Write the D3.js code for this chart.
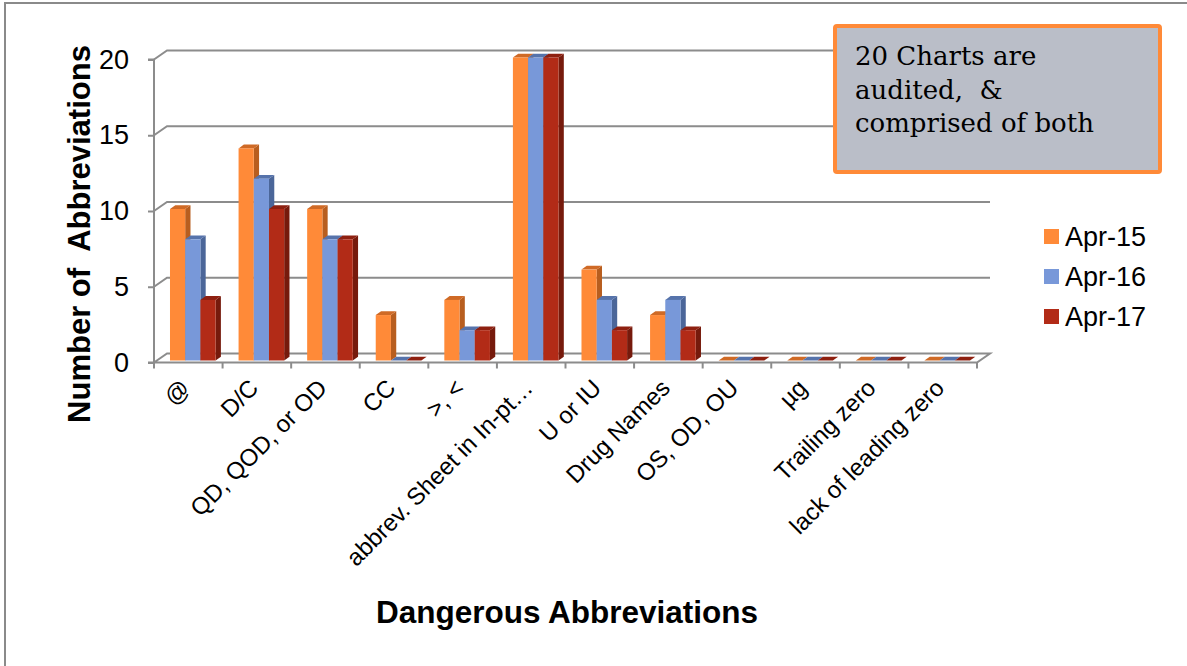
<!DOCTYPE html>
<html>
<head>
<meta charset="utf-8">
<script src="https://cdn.jsdelivr.net/npm/d3@7"></script>
<style>
  html, body { margin: 0; padding: 0; background: #fff; }
  svg { display: block; }
  text { font-family: "Liberation Sans", Arial, sans-serif; fill: #000; }
</style>
</head>
<body>
<svg id="chart" width="1187" height="666"></svg>
<script>
// Dangerous abbreviations counted in audited charts, by audit month
const categories = ["@", "D/C", "QD, QOD, or OD", "CC", ">, <", "abbrev. Sheet in In-pt…",
                    "U or IU", "Drug Names", "OS, OD, OU", "µg", "Trailing zero", "lack of leading zero"];
const seriesNames = ["Apr-15", "Apr-16", "Apr-17"];
const apr15 = [10, 14, 10, 3, 4, 20, 6, 3, 0, 0, 0, 0];
const apr16 = [8, 12, 8, 0, 2, 20, 4, 4, 0, 0, 0, 0];
const apr17 = [4, 10, 8, 0, 2, 20, 2, 2, 0, 0, 0, 0];
const yTicks = [0, 5, 10, 15, 20];
const noteLines = ["20 Charts are", "audited,  &", "comprised of both"];

const seriesValues = [apr15, apr16, apr17];
const faceColors = ["#ff8a38", "#7898d9", "#b22b17"];
const sideColors = ["#b85e1f", "#4b6699", "#761a0c"];
const topColors  = ["#cf6a26", "#5673ab", "#8e2010"];

const svg = d3.select("#chart");

// outer frame of the chart area
svg.append("path")
  .attr("d", "M5,700 L5,3 L1200,3")
  .attr("fill", "none").attr("stroke", "#8a8a8a").attr("stroke-width", 2);

// plot geometry: front plane plus a receding depth offset for the 3-D walls
const left = 154, right = 977;
const depthX = 13, depthY = -9;
const x = d3.scaleBand().domain(categories).range([left, right]).paddingInner(0.335).paddingOuter(0.1675);
const xs = d3.scaleBand().domain(seriesNames).range([0, x.bandwidth()]);
const y = d3.scaleLinear().domain([0, 20]).range([362.5, 59.5]);

const gridColor = "#8c8c8c";
const grid = svg.append("g").attr("fill", "none").attr("stroke", gridColor).attr("stroke-width", 2);

// back-wall gridlines with their diagonal connectors to the front axis
yTicks.filter(t => t > 0).forEach(t => {
  grid.append("path")
    .attr("d", `M${left},${y(t)} L${left + depthX},${y(t) + depthY} L${right + depthX},${y(t) + depthY}`);
});

// floor
grid.append("path")
  .attr("d", `M${left},${y(0)} L${left + depthX},${y(0) + depthY} L${right + depthX},${y(0) + depthY} L${right},${y(0)} Z`)
  .attr("fill", "#fff");

// 3-D bars: side, top, then front face
const barOff = { x: 4.5, y: -2 };
const side = { x: 5.3, y: -3.8 };
const bars = svg.append("g");
categories.forEach((c, i) => {
  seriesNames.forEach((s, k) => {
    const v = seriesValues[k][i];
    const x0 = x(c) + xs(s) + barOff.x;
    const w = xs.bandwidth();
    const yb = y(0) + barOff.y;
    const yt = y(v) + barOff.y;
    if (v > 0) {
      bars.append("path")
        .attr("d", `M${x0 + w},${yb} L${x0 + w + side.x},${yb + side.y} L${x0 + w + side.x},${yt + side.y} L${x0 + w},${yt} Z`)
        .attr("fill", sideColors[k]);
    }
    bars.append("path")
      .attr("d", `M${x0},${yt} L${x0 + side.x},${yt + side.y} L${x0 + w + side.x},${yt + side.y} L${x0 + w},${yt} Z`)
      .attr("fill", topColors[k]);
    if (v > 0) {
      bars.append("rect")
        .attr("x", x0).attr("y", yt).attr("width", w).attr("height", yb - yt)
        .attr("fill", faceColors[k]);
    }
  });
});

// front value axis
const yAxis = d3.axisLeft(y).tickValues(yTicks).tickSize(6).tickPadding(19).tickFormat(d3.format("d"));
const yg = svg.append("g").attr("transform", `translate(${left},0)`).call(yAxis);
yg.select(".domain").attr("stroke", gridColor).attr("stroke-width", 2).attr("d", `M-6,${y(0)}H0V${y(20)}H-6`);
yg.selectAll(".tick line").attr("stroke", gridColor).attr("stroke-width", 2);
yg.selectAll(".tick text").attr("font-size", 27).attr("font-family", "Liberation Sans, Arial, sans-serif").attr("fill", "#000");

// category ticks along the front edge of the floor
const catTicks = d3.range(categories.length + 1).map(i => left + i * x.step());
svg.append("g").selectAll("line").data(catTicks).join("line")
  .attr("x1", d => d).attr("x2", d => d)
  .attr("y1", y(0)).attr("y2", y(0) + 6)
  .attr("stroke", gridColor).attr("stroke-width", 2);

// rotated category labels
svg.append("g").selectAll("text").data(categories).join("text")
  .attr("transform", d => `translate(${x(d) + x.bandwidth() / 2 + 3},${y(0) + 27}) rotate(-45)`)
  .attr("text-anchor", "end")
  .attr("font-size", 24)
  .text(d => d);

// axis titles
svg.append("text")
  .attr("transform", `translate(90,234) rotate(-90)`)
  .attr("text-anchor", "middle")
  .attr("font-size", 31).attr("font-weight", "bold")
  .attr("xml:space", "preserve").style("white-space", "pre")
  .text("Number of  Abbreviations");

svg.append("text")
  .attr("x", 567).attr("y", 623)
  .attr("text-anchor", "middle")
  .attr("font-size", 31.5).attr("font-weight", "bold")
  .text("Dangerous Abbreviations");

// legend
const legend = svg.append("g").attr("transform", "translate(1044,229)");
seriesNames.forEach((s, k) => {
  const g = legend.append("g").attr("transform", `translate(0,${k * 40})`);
  g.append("rect").attr("width", 15).attr("height", 15).attr("fill", faceColors[k]);
  g.append("text").attr("x", 21).attr("y", 16.5).attr("font-size", 27).text(s);
});

// annotation box
const note = svg.append("g");
note.append("rect")
  .attr("x", 835).attr("y", 26).attr("width", 325).attr("height", 146)
  .attr("rx", 2)
  .attr("fill", "#babec8").attr("stroke", "#ff8a38").attr("stroke-width", 4);
note.selectAll("text").data(noteLines).join("text")
  .attr("x", 855).attr("y", (d, i) => 65 + i * 33.5)
  .attr("font-size", 26)
  .attr("xml:space", "preserve")
  .style("white-space", "pre")
  .style("font-family", "'DejaVu Serif', serif")
  .text(d => d);
</script>
</body>
</html>
